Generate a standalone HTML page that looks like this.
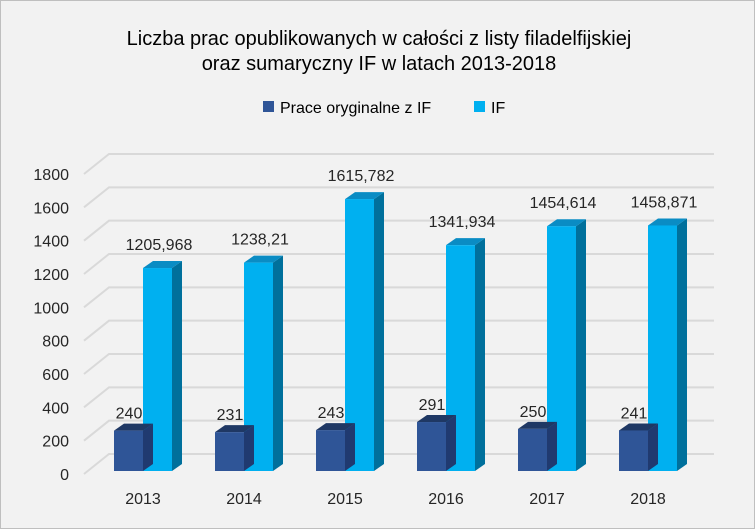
<!DOCTYPE html>
<html><head><meta charset="utf-8"><style>
body{margin:0;background:#fff}
#c{position:relative;width:755px;height:529px;background:#f2f2f2;box-sizing:border-box;border:1px solid #bfbfbf;font-family:"Liberation Sans",sans-serif;color:#262626}
</style></head><body>
<div id="c">
<svg width="755" height="529" style="position:absolute;left:0;top:0">
<text x="378" y="44" text-anchor="middle" font-size="20" fill="#000">Liczba prac opublikowanych w całości z listy filadelfijskiej</text>
<text x="378" y="69" text-anchor="middle" font-size="20" fill="#000">oraz sumaryczny IF w latach 2013-2018</text>
<g>
<rect x="262" y="100" width="11" height="11" fill="#2f5597"/>
<text x="279" y="112" font-size="16" fill="#000">Prace oryginalne z IF</text>
<rect x="473" y="100" width="11" height="11" fill="#00b0f0"/>
<text x="490" y="112" font-size="16" fill="#000">IF</text>
</g>
<g id="grid"></g><g id="bars"></g><g id="labels"></g>
</svg>
</div>
<script>
const categories=["2013","2014","2015","2016","2017","2018"];
const prace=[240,231,243,291,250,241];
const ifVals=[1205.968,1238.21,1615.782,1341.934,1454.614,1458.871];
const ifLabels=["1205,968","1238,21","1615,782","1341,934","1454,614","1458,871"];
const ticks=[0,200,400,600,800,1000,1200,1400,1600,1800];
const NS="http://www.w3.org/2000/svg";
function mk(t,a,p){const e=document.createElementNS(NS,t);for(const k in a)e.setAttribute(k,a[k]);p.appendChild(e);return e;}
const yFront=v=>473-v*(300/1800);
const yBar=v=>470-v*0.1683;
const xc=i=>142+i*101;
const grid=document.getElementById('grid'),bars=document.getElementById('bars'),labels=document.getElementById('labels');
ticks.forEach(t=>{
 const y=yFront(t);
 const l=mk('polyline',{points:`83,${y} 108,${y-20} 713,${y-20}`,fill:'none',stroke:'#d9d9d9','stroke-width':2},grid);
 
 
 const tx=mk('text',{x:68,y:y+6,'text-anchor':'end','font-size':16,fill:'#262626'},labels);
 tx.textContent=t;
 
 
});
function bar(x,v,front,top,side,name){
 const w=29,dx=10,dy=7,b=470,y=yBar(v);
 const g=mk('g',{},bars);
 
 
 mk('polygon',{points:`${x+w},${b} ${x+w+dx},${b-dy} ${x+w+dx},${y-dy} ${x+w},${y}`,fill:side},g);
 mk('polygon',{points:`${x},${y} ${x+dx},${y-dy} ${x+w+dx},${y-dy} ${x+w},${y}`,fill:top},g);
 mk('rect',{x:x,y:y,width:w,height:b-y,fill:front},g);
 return y;
}
categories.forEach((c,i)=>{
 const x=xc(i);
 bar(x-29+29,ifVals[i],'#00b0f0','#0a8cc4','#00709c','bar-if-'+c);
 const y1=bar(x-29,prace[i],'#2f5597','#1f3864','#203a70','bar-prace-'+c);
 // redraw order: prace drawn after IF so IF side isn't covered; prace is left so fine
 const t1=mk('text',{x:x-14,y:y1-12,'text-anchor':'middle','font-size':16,fill:'#262626'},labels);
 t1.textContent=prace[i];
 
 
 const t2=mk('text',{x:x+16,y:yBar(ifVals[i])-18,'text-anchor':'middle','font-size':16,fill:'#262626'},labels);
 t2.textContent=ifLabels[i];
 
 
 const t3=mk('text',{x:x,y:503,'text-anchor':'middle','font-size':16,fill:'#262626'},labels);
 t3.textContent=c;
 
 
});
</script>
</body></html>
